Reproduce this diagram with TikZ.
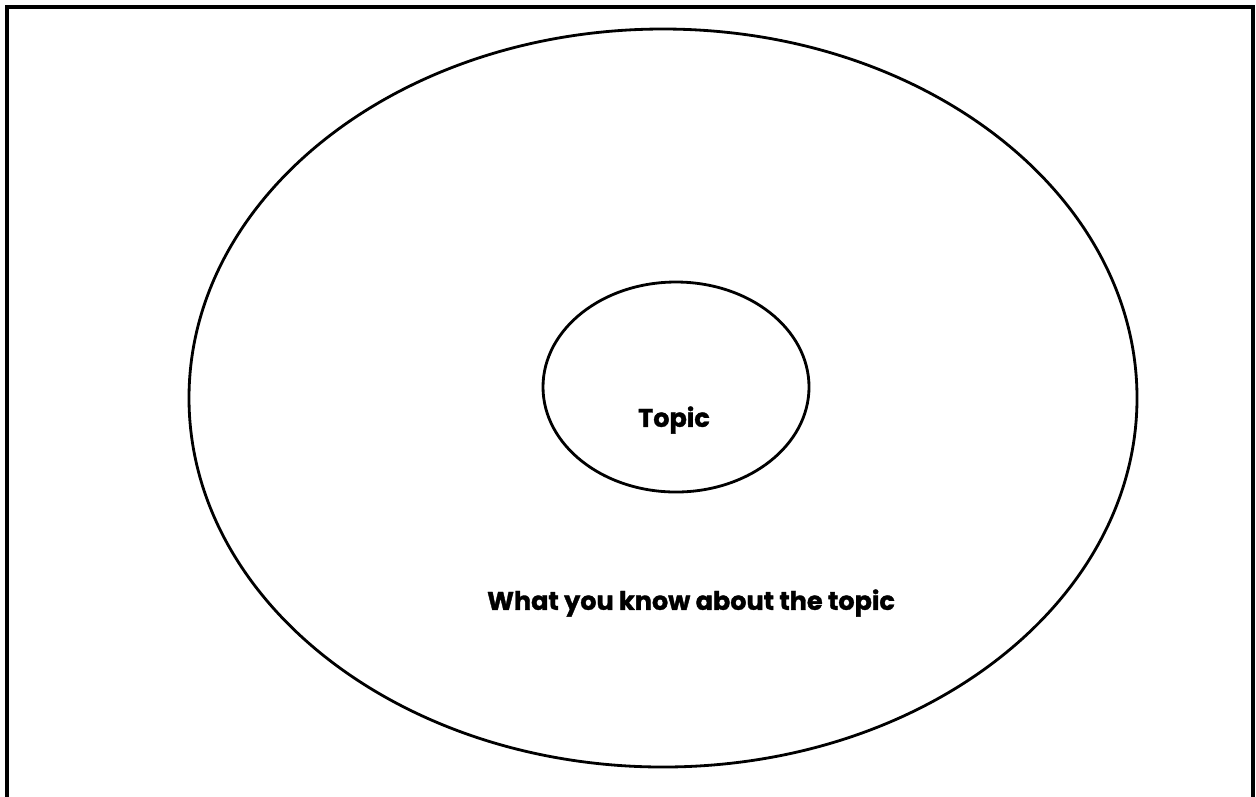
\documentclass[tikz,border=0pt]{standalone}
\usepackage{fontspec}
\setmainfont{Poppins}[BoldFeatures={FakeBold=1.4}]
\begin{document}
\begin{tikzpicture}[
        x=0.02cm, y=-0.02cm,
        frame/.style={draw, line width=1.9pt},
        ring/.style={draw, line width=1.6pt},
        label/.style={font=\fontsize{14.5}{17}\selectfont\bfseries, align=center}
    ]
        \useasboundingbox (0,0) rectangle (1256,796);
        \draw[frame] (7,7) rectangle (1253,810);
        \draw[ring] (663,398) ellipse [x radius=474, y radius=369];
        \draw[ring] (676,387) ellipse [x radius=133, y radius=105];
        \node[label] (topic) at (674,420) {Topic};
        \node[label] (known) at (691,603) {What you know about the topic};
    \end{tikzpicture}
\end{document}
